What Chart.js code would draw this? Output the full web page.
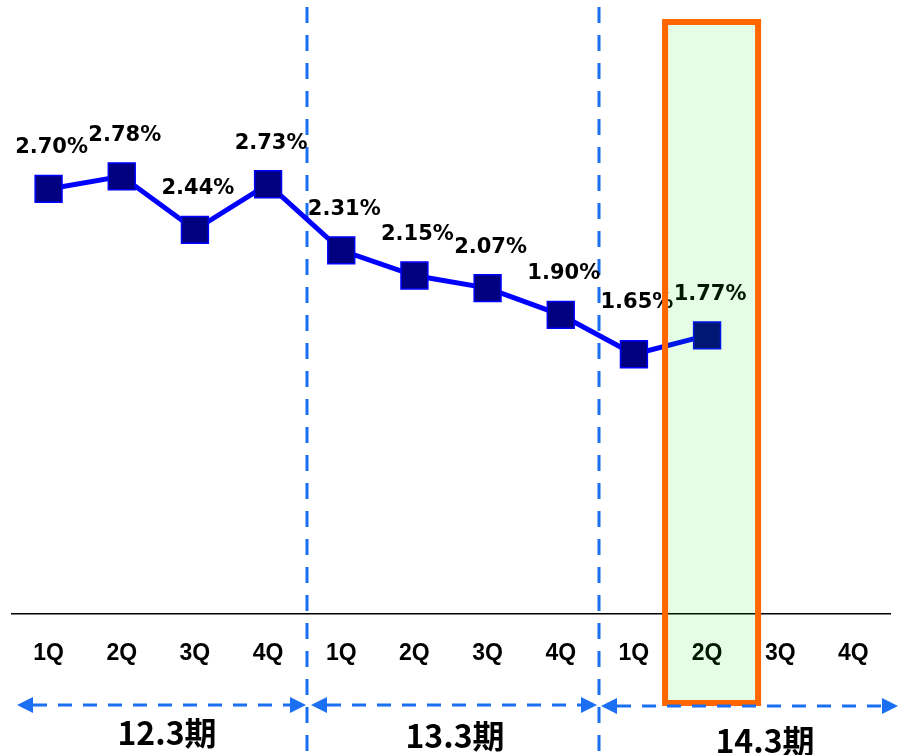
<!DOCTYPE html>
<html>
<head>
<meta charset="utf-8">
<script src="https://cdn.jsdelivr.net/npm/chart.js@4.4.1/dist/chart.umd.min.js"></script>
<style>
  html, body { margin: 0; padding: 0; background: #fff; }
  #wrap { width: 900px; height: 755px; position: relative; }
</style>
</head>
<body>
<div id="wrap"><canvas id="rateChart"></canvas></div>
<script>
const quarters = ['1Q', '2Q', '3Q', '4Q', '1Q', '2Q', '3Q', '4Q', '1Q', '2Q', '3Q', '4Q'];
const rates = [2.70, 2.78, 2.44, 2.73, 2.31, 2.15, 2.07, 1.90, 1.65, 1.77, null, null];
const periods = ['12.3期', '13.3期', '14.3期'];
const highlightIndex = 9;

const dashBlue = '#1b6ff2';
// hand placed, the period captions sit a little off centre in the original
const periodX = [167, 455, 765];
const periodY = [733, 736, 741];

function drawArrow(ctx, x1, x2, y) {
  const head = 16;
  ctx.beginPath();
  ctx.setLineDash([14, 11]);
  ctx.moveTo(x1 + head, y);
  ctx.lineTo(x2 - head, y);
  ctx.stroke();
  ctx.setLineDash([]);
  ctx.beginPath();
  ctx.moveTo(x1, y); ctx.lineTo(x1 + head, y - 8); ctx.lineTo(x1 + head, y + 8); ctx.closePath();
  ctx.moveTo(x2, y); ctx.lineTo(x2 - head, y - 8); ctx.lineTo(x2 - head, y + 8); ctx.closePath();
  ctx.fill();
}

const decor = {
  id: 'decor',
  dividers(x) {
    return [4, 8].map(i => Math.round((x.getPixelForValue(i - 1) + x.getPixelForValue(i)) / 2) + 2);
  },
  beforeDatasetsDraw(chart) {
    const { ctx, scales: { x } } = chart;
    ctx.save();
    ctx.strokeStyle = dashBlue;
    ctx.lineWidth = 3;
    ctx.setLineDash([16, 12]);
    this.dividers(x).forEach(px => {
      ctx.beginPath();
      ctx.moveTo(px, 7);
      ctx.lineTo(px, 755);
      ctx.stroke();
    });
    ctx.restore();
  },
  afterDatasetsDraw(chart) {
    const { ctx, scales: { x } } = chart;
    const meta = chart.getDatasetMeta(0);
    ctx.save();

    // value labels
    ctx.font = 'bold 21px "DejaVu Sans"';
    ctx.fillStyle = '#000';
    ctx.textAlign = 'center';
    ctx.textBaseline = 'middle';
    meta.data.forEach((pt, i) => {
      if (rates[i] == null) return;
      const lift = i === 8 ? 52 : 41;
      ctx.fillText(rates[i].toFixed(2) + '%', pt.x + 3, pt.y - lift);
    });

    // highlighted quarter
    const cx = x.getPixelForValue(highlightIndex);
    const left = cx - 42, right = cx + 51, top = 22, bottom = 703;
    ctx.fillStyle = 'rgba(0, 225, 0, 0.1)';
    ctx.fillRect(left, top, right - left, bottom - top);
    ctx.strokeStyle = '#ff6600';
    ctx.lineWidth = 6;
    ctx.strokeRect(left, top, right - left, bottom - top);

    // period arrows
    const [d1, d2] = this.dividers(x);
    ctx.strokeStyle = dashBlue;
    ctx.fillStyle = dashBlue;
    ctx.lineWidth = 3;
    drawArrow(ctx, x.left + 5, d1 - 1, 705);
    drawArrow(ctx, d1 + 4, d2 - 2, 705);
    drawArrow(ctx, d2 + 2, 898, 706);

    // period captions
    ctx.fillStyle = '#000';
    ctx.font = 'bold 32px "Noto Sans CJK JP"';
    periods.forEach((p, i) => ctx.fillText(p, periodX[i], periodY[i]));

    ctx.restore();
  }
};

new Chart(document.getElementById('rateChart'), {
  type: 'line',
  data: {
    labels: quarters,
    datasets: [{
      data: rates,
      borderColor: '#0000ff',
      borderWidth: 5,
      pointStyle: 'rect',
      pointRadius: 19,
      pointHoverRadius: 19,
      pointBackgroundColor: '#000080',
      pointBorderColor: '#0000ff',
      pointBorderWidth: 1.5,
      tension: 0,
      clip: false
    }]
  },
  options: {
    responsive: true,
    maintainAspectRatio: false,
    animation: false,
    layout: { autoPadding: false, padding: { left: 12, right: 10, top: 0, bottom: 0 } },
    plugins: { legend: { display: false }, tooltip: { enabled: false } },
    scales: {
      x: {
        offset: true,
        grid: { display: false, drawTicks: false },
        border: { display: true, color: '#000', width: 1.5 },
        ticks: {
          color: '#000',
          font: { family: '"Liberation Sans", Arial', size: 23, weight: 'bold' },
          padding: 26,
          maxRotation: 0,
          autoSkip: false
        },
        afterFit: s => { s.height = 141; }
      },
      y: { display: false, min: 0, max: 3.9 }
    }
  },
  plugins: [decor]
});
</script>
</body>
</html>
